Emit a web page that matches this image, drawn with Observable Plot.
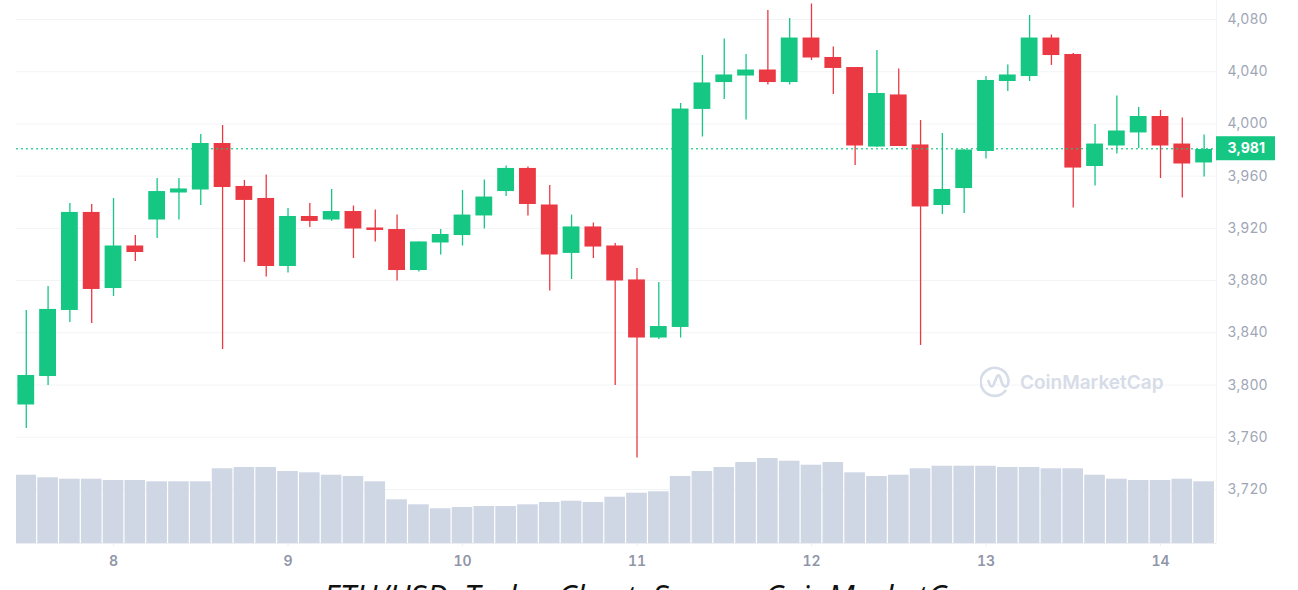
<!DOCTYPE html>
<html>
<head>
<meta charset="utf-8">
<script src="https://cdn.jsdelivr.net/npm/d3@7"></script>
<script src="https://cdn.jsdelivr.net/npm/@observablehq/plot@0.6"></script>
<style>
  html, body { margin: 0; padding: 0; background: #fff; height: 590px; overflow: hidden; }
  #wrap { position: relative; width: 1298px; height: 590px; overflow: hidden; font-family: Inter, sans-serif; }
  #chart svg { display: block; background: #fff; }
  #caption { position: absolute; left: 0; width: 1306px; top: 579px; text-align: center;
    font: italic 32px/36px "Open Sans", sans-serif; color: #111; white-space: nowrap; }
  #mark { position: absolute; left: 980px; top: 366px; display: flex; align-items: center; }
  #mark span { margin-left: 10px; font: 600 19px Inter, sans-serif; color: #d6dce8; letter-spacing: 0; }
</style>
</head>
<body>
<div id="wrap">
  <div id="chart"></div>
  <div id="mark">
    <svg width="30" height="32" viewBox="0 0 30 32" fill="none" stroke="#d6dce8" stroke-width="2.6">
      <path d="M26 24 A14 14 0 1 1 28.5 14 C28.5 22 24 22 22 17 L20 11 C19 8.5 17.5 9 16.5 11.5 L13.5 19 C12.5 21 11 21 10 19 L8 14"/>
    </svg>
    <span>CoinMarketCap</span>
  </div>
  <div id="caption">ETH/USD, Today Chart, Source: CoinMarketCap</div>
</div>
<script>
// 3 hour candles, ETH/USD, day 7.5 to 14.25
const opens = [3784.7,3806.5,3857.1,3932.2,3873.9,3906.5,3926.4,3947.1,3949.4,3985.0,3952.1,3942.9,3890.8,3929.1,3926.4,3932.9,3920.3,3919.1,3887.7,3908.8,3914.5,3929.5,3948.2,3965.9,3937.9,3900.8,3921.1,3906.5,3880.5,3836.0,3844.1,4011.1,4031.7,4036.7,4041.3,4031.7,4065.8,4050.9,4043.2,3982.3,4022.2,3983.9,3937.5,3950.5,3978.9,4032.5,4036.3,4065.8,4053.2,3967.4,3983.1,3993.1,4005.7,3984.6,3970.1];
const closes = [3807.3,3857.9,3932.2,3873.2,3906.5,3901.5,3948.2,3950.2,3985.0,3951.3,3941.4,3890.8,3929.1,3925.3,3932.9,3919.5,3918.4,3887.7,3909.6,3915.3,3930.2,3944.0,3965.9,3938.3,3899.6,3921.1,3905.7,3879.7,3836.0,3844.8,4011.4,4031.4,4037.5,4041.3,4031.7,4065.8,4050.5,4042.5,3983.1,4023.3,3982.7,3936.4,3949.8,3980.0,4033.3,4037.5,4065.8,4052.4,3966.2,3984.6,3994.6,4005.7,3983.1,3969.3,3980.4];
const highs = [3857.1,3875.5,3939.1,3938.3,3942.9,3914.5,3958.2,3958.2,3991.9,3998.8,3956.7,3960.9,3935.2,3939.1,3949.8,3937.1,3934.1,3930.2,3909.6,3919.1,3949.0,3957.1,3967.8,3967.0,3952.8,3930.2,3924.1,3908.4,3889.3,3878.5,4015.7,4052.4,4065.1,4053.2,4086.9,4080.8,4091.9,4058.9,4043.2,4056.3,4042.1,4002.6,3992.7,3980.4,4036.3,4045.1,4083.1,4068.1,4054.0,3999.6,4021.4,4012.6,4010.3,4004.5,3991.5];
const lows = [3766.7,3799.6,3847.9,3847.1,3867.8,3894.6,3912.2,3926.4,3937.5,3827.2,3893.9,3882.8,3885.8,3920.7,3925.3,3896.9,3909.6,3879.7,3886.6,3899.6,3906.5,3919.5,3944.4,3929.5,3872.0,3880.8,3896.9,3799.6,3744.1,3834.9,3836.0,3990.0,4018.7,4003.0,4029.8,4029.8,4048.6,4022.5,3968.2,3981.9,3982.7,3830.3,3930.6,3931.4,3973.1,4024.8,4032.5,4044.8,3935.6,3952.5,3977.0,3981.2,3958.2,3943.3,3959.4];
// volume has no axis in the picture, relative units
const volumes = [68.3,65.7,64.3,64.3,63,63,61.7,61.7,61.7,74.7,76,76,72,70.7,68.3,67,61.7,43.7,38.7,34.7,36,37,37,38.7,41,42.3,41,46.3,50.3,51.7,67,72,76,81,85,82.3,78.3,81,70.7,67,68.3,74.7,77.3,77.3,77.3,76,76,74.7,74.7,68.3,64.3,63,63,64.3,61.7];
const priceTicks = [3720,3760,3800,3840,3880,3920,3960,4000,4040,4080];
const dayTicks = [8,9,10,11,12,13,14];
const lastPrice = 3981;

const green = '#16c784';
const red = '#ea3943';
const grey = '#cfd6e4';
const rim = '#f3f4f7';
const xDomain = [7.444, 14.321];
const yDomain = [3678.6, 4094.55];
const volScale = 0.766;

const candles = opens.map((open, i) => ({
  t: 7.5 + i / 8,
  open,
  close: closes[i],
  high: highs[i],
  low: lows[i],
  volume: volumes[i],
}));
const up = candles.filter(d => d.close >= d.open);
const down = candles.filter(d => d.close < d.open);

const wicks = (data, color) => Plot.ruleX(data, {x: 't', y1: 'low', y2: 'high', stroke: color, strokeWidth: 1.3});
const bodies = (data, color) => Plot.rectY(data, {
  x1: d => d.t - 1 / 16,
  x2: d => d.t + 1 / 16,
  y1: 'open',
  y2: 'close',
  fill: color,
  insetLeft: 2.5,
  insetRight: 2.5,
});

const chart = Plot.plot({
  width: 1298,
  height: 575,
  marginTop: 0,
  marginLeft: 16,
  marginRight: 82,
  marginBottom: 32,
  x: {type: 'linear', domain: xDomain},
  y: {domain: yDomain},
  marks: [
    Plot.ruleY(priceTicks, {stroke: rim}),
    Plot.ruleX(xDomain.slice(1), {stroke: rim}),
    Plot.rectY(candles, {
      x1: d => d.t - 1 / 16,
      x2: d => d.t + 1 / 16,
      y1: yDomain[0],
      y2: d => yDomain[0] + d.volume * volScale,
      fill: grey,
      insetLeft: 0.6,
      insetRight: 0.6,
      clip: true,
    }),
    Plot.ruleY([yDomain[0]], {stroke: '#eceef3'}),
    wicks(up, green),
    wicks(down, red),
    bodies(up, green),
    bodies(down, red),
    Plot.ruleY([lastPrice], {stroke: green, strokeWidth: 1.3, strokeOpacity: 0.8, strokeDasharray: '2 3'}),
    Plot.axisY(priceTicks, {
      anchor: 'right',
      tickSize: 0,
      tickPadding: 11,
      tickFormat: d3.format(','),
      label: null,
      fontSize: 14,
      fontFamily: 'Inter',
      fill: '#a0a6b6',
      textAnchor: 'start',
    }),
    Plot.axisX(dayTicks, {
      anchor: 'bottom',
      tickSize: 3,
      tickPadding: 10,
      tickFormat: d => d,
      label: null,
      stroke: '#eceef3',
      fontSize: 14,
      fontWeight: 600,
      fontFamily: 'Inter',
      fill: '#8f96a8',
    }),
    // price badge hanging off the right axis
    Plot.rectY([lastPrice], {
      x1: xDomain[1],
      x2: 14.659,
      y1: d => d - 9.2,
      y2: d => d + 9.2,
      fill: green,
    }),
    Plot.text([lastPrice], {
      x: xDomain[1],
      y: d => d,
      text: d3.format(','),
      dx: 11,
      textAnchor: 'start',
      fill: 'white',
      fontSize: 14,
      fontWeight: 700,
      fontFamily: 'Inter',
    }),
  ],
});
d3.select('#chart').append(() => chart);
</script>
</body>
</html>
